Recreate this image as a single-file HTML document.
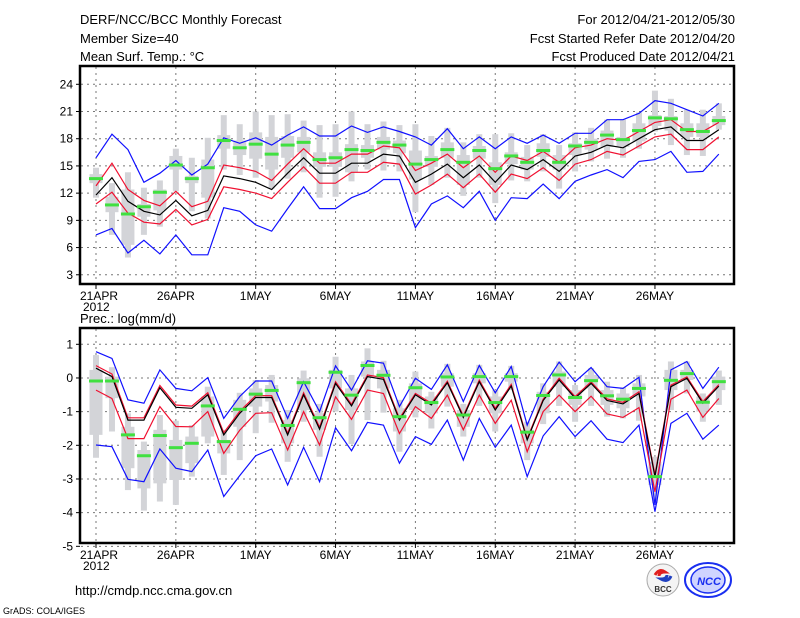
<!DOCTYPE html>
<html><head><meta charset="utf-8"><style>
html,body{margin:0;padding:0;background:#fff;width:800px;height:618px;overflow:hidden}
svg{display:block}
text{font-family:"Liberation Sans",sans-serif;fill:#000}
</style></head><body>
<svg id="chart" width="800" height="618" viewBox="0 0 800 618" xmlns="http://www.w3.org/2000/svg">
<text x="80" y="24" font-size="13">DERF/NCC/BCC Monthly Forecast</text>
<text x="80" y="43" font-size="13">Member Size=40</text>
<text x="80" y="61" font-size="13">Mean Surf. Temp.: °C</text>
<text x="735" y="24" font-size="13" text-anchor="end">For 2012/04/21-2012/05/30</text>
<text x="735" y="43" font-size="13" text-anchor="end">Fcst Started Refer Date 2012/04/20</text>
<text x="735" y="61" font-size="13" text-anchor="end">Fcst Produced Date 2012/04/21</text>
<text x="80" y="323" font-size="13">Prec.: log(mm/d)</text>
<text x="75" y="595" font-size="13">http://cmdp.ncc.cma.gov.cn</text>
<text x="3" y="614" font-size="9">GrADS: COLA/IGES</text>
<g>
<circle cx="663" cy="580" r="16" fill="#f4f4f4" stroke="#aaa" stroke-width="1"/>
<path d="M655 575 q4 -7 10 -3 q-6 0 -6 4" fill="none" stroke="#e02020" stroke-width="3"/>
<path d="M671 576 q-3 7 -10 3 q6 0 6 -4" fill="none" stroke="#2040c0" stroke-width="3"/>
<text x="663" y="592" font-size="8" font-weight="bold" text-anchor="middle" style="fill:#333">BCC</text>
</g>
<g>
<ellipse cx="708" cy="580" rx="23" ry="17" fill="none" stroke="#1a2ff0" stroke-width="2"/>
<ellipse cx="708" cy="580" rx="17" ry="13" fill="#cfd4ff" stroke="#1a2ff0" stroke-width="1.5"/>
<text x="709" y="585" font-size="11" font-weight="bold" font-style="italic" text-anchor="middle" style="fill:#1a2ff0">NCC</text>
</g>
</svg>
<script>
// ---- Temperature panel data ----
const dayLabels = ["21APR","26APR","1MAY","6MAY","11MAY","16MAY","21MAY","26MAY"];
const tempTicks = [3,6,9,12,15,18,21,24];
const tempMean = [11.8,13.7,11.1,10.0,9.6,11.2,9.5,10.1,13.9,13.6,13.2,12.4,14.2,15.9,14.2,14.2,15.3,15.3,16.3,16.1,13.2,14.1,15.2,13.7,15.1,13.2,15.1,14.6,15.7,14.4,16.1,16.5,17.3,17.0,18.0,19.0,19.3,17.8,17.8,19.0];
const tempSpread = [1.0,1.6,1.3,1.2,1.0,1.0,1.0,1.0,1.2,1.2,1.2,1.0,1.0,1.0,1.1,1.1,1.0,1.0,0.9,0.9,1.3,1.2,1.1,1.1,1.0,1.1,1.0,1.0,0.9,1.0,0.9,0.8,0.7,0.8,0.8,0.8,0.8,1.0,1.0,0.8];
const tempMax = [15.9,18.5,16.8,13.2,14.2,15.6,14.0,15.2,18.1,17.5,18.1,17.3,18.4,19.3,18.3,18.3,19.4,18.7,19.3,18.8,18.2,17.3,19.1,16.9,18.2,16.9,18.2,17.5,18.4,17.5,18.6,18.6,20.1,20.1,20.8,22.2,21.9,21.2,20.5,21.9];
const tempMin = [7.4,8.1,5.4,6.8,5.3,7.4,5.2,5.2,10.4,10.0,8.5,7.8,10.3,12.7,10.3,10.3,11.5,12.2,13.5,13.5,8.2,10.8,11.7,10.4,12.2,9.0,11.5,11.4,13.0,11.4,13.3,14.0,14.6,13.7,15.5,15.7,16.6,14.3,14.4,16.3];
const tempObs = [13.6,10.7,9.7,10.5,12.1,15.1,13.6,14.8,17.8,17.0,17.4,16.3,17.3,17.6,15.7,15.9,16.8,16.7,17.6,17.3,15.2,15.7,16.8,15.4,16.7,14.7,16.1,15.4,16.7,15.4,17.2,17.6,18.4,17.9,18.9,20.3,20.2,19.0,18.8,20.0];
const tempOutHi = [14.8,13.1,14.3,12.6,13.4,16.9,15.9,18.1,20.6,19.6,21.0,20.6,20.7,20.0,19.5,19.6,21.0,19.6,19.9,19.5,19.6,18.3,19.2,17.6,18.5,18.5,18.6,17.3,18.5,17.3,18.7,19.2,20.1,20.1,20.9,23.3,22.4,21.2,21.2,21.9];
const tempOutLo = [11.5,7.4,4.9,7.4,8.3,12.2,10.0,9.2,14.6,14.0,13.7,12.5,13.6,14.3,11.5,11.6,13.3,14.6,14.5,14.4,9.9,12.9,13.7,11.7,13.7,10.9,13.4,13.3,14.4,12.5,14.4,15.5,15.8,15.9,16.9,18.8,17.3,16.2,16.1,19.0];
const tempBoxHi = [14.1,11.6,12.4,10.8,12.4,16.1,13.9,15.7,18.4,17.8,18.7,18.2,18.3,18.2,16.5,16.5,17.4,17.3,18.2,17.8,16.7,16.1,17.6,16.2,17.2,15.4,16.5,16.0,17.5,16.2,17.5,18.0,18.9,18.2,19.7,20.6,20.5,19.7,19.7,20.5];
const tempBoxLo = [13.1,9.9,6.3,9.4,10.1,14.6,13.1,11.5,16.9,16.2,15.8,14.6,15.9,16.5,14.9,14.9,14.3,15.9,16.8,16.4,13.5,14.9,15.9,12.9,15.8,12.9,15.2,14.6,16.0,14.6,16.2,16.8,17.1,17.1,17.7,19.4,18.9,18.2,18.2,19.5];
// ---- Precipitation panel data ----
const precTicks = [-5,-4,-3,-2,-1,0,1];
const precMean = [0.29,0.04,-1.25,-1.25,-0.29,-0.87,-0.9,-0.5,-1.69,-1.05,-0.58,-0.58,-1.69,-0.5,-1.52,-0.16,-0.83,0.04,-0.04,-1.25,-0.5,-0.8,-0.14,-1.17,-0.11,-0.95,-0.24,-1.84,-0.67,-0.06,-0.6,-0.16,-0.67,-0.77,-0.46,-2.93,-0.26,-0.01,-0.75,-0.24];
const precSpread = [0.65,0.65,0.55,0.55,0.56,0.57,0.55,0.5,0.55,0.5,0.47,0.45,0.45,0.5,0.47,0.4,0.4,0.4,0.42,0.4,0.35,0.4,0.37,0.37,0.4,0.4,0.42,0.35,0.33,0.45,0.4,0.38,0.4,0.4,0.42,0.45,0.37,0.35,0.42,0.37];
const precMax = [0.78,0.58,-0.65,-0.75,0.24,-0.31,-0.38,0.01,-1.2,-0.55,-0.09,-0.09,-1.2,-0.11,-1.0,0.36,-0.36,0.51,0.44,-0.85,-0.01,-0.34,0.39,-0.7,0.37,-0.44,0.34,-1.4,-0.26,0.47,-0.11,0.31,-0.26,-0.31,0.02,-3.77,0.24,0.49,-0.31,0.32];
const precMin = [-1.99,-2.04,-3.01,-3.08,-2.11,-2.68,-2.78,-2.14,-3.52,-2.9,-2.31,-2.11,-3.18,-2.06,-3.08,-1.48,-2.16,-1.32,-1.4,-2.53,-1.74,-1.97,-1.25,-2.44,-1.2,-2.06,-1.4,-2.93,-1.72,-1.15,-1.74,-1.27,-1.82,-1.92,-1.4,-3.97,-1.35,-1.05,-1.82,-1.4];
const precObs = [-0.09,-0.09,-1.69,-2.31,-1.71,-2.07,-1.94,-0.83,-1.89,-0.93,-0.48,-0.37,-1.41,-0.14,-1.18,0.17,-0.51,0.37,0.08,-1.15,-0.29,-0.73,0.03,-1.1,0.04,-0.73,0.04,-1.61,-0.52,0.09,-0.58,-0.08,-0.53,-0.63,-0.31,-2.93,-0.07,0.13,-0.72,-0.11];
const precOutHi = [0.68,0.32,-1.05,-1.89,-1.1,-1.27,-1.4,-0.26,-1.54,-0.44,-0.06,0.09,-0.95,0.22,-0.77,0.63,0.09,0.88,0.51,-0.65,0.19,-0.41,0.42,-0.77,0.39,-0.36,0.36,-1.3,-0.16,0.49,-0.21,0.29,-0.11,-0.28,0.09,-2.34,0.49,0.49,-0.46,0.22];
const precOutLo = [-2.37,-1.59,-3.33,-3.94,-3.67,-3.77,-2.93,-1.94,-2.88,-2.44,-1.64,-1.33,-2.49,-1.3,-2.34,-1.0,-1.96,-1.25,-1.03,-2.19,-1.17,-1.5,-0.85,-1.74,-0.83,-1.59,-0.36,-2.44,-1.37,-0.83,-1.3,-0.83,-1.15,-1.2,-1.27,-3.72,-0.95,-0.46,-1.3,-0.8];
const precBoxHi = [0.24,0.04,-1.45,-2.14,-1.54,-1.84,-1.74,-0.55,-1.84,-0.65,-0.31,-0.21,-1.25,-0.01,-1.05,0.24,-0.31,0.49,0.24,-0.9,-0.16,-0.55,0.14,-0.95,0.14,-0.55,0.14,-1.54,-0.41,0.19,-0.36,0.09,-0.36,-0.46,-0.16,-2.49,0.24,0.24,-0.55,0.04];
const precBoxLo = [-1.69,-0.6,-2.68,-3.28,-3.13,-3.03,-2.53,-1.74,-2.24,-1.45,-0.85,-0.7,-1.94,-0.95,-1.54,-0.31,-0.95,0.04,-0.31,-1.59,-0.95,-1.05,-0.26,-1.45,-0.16,-1.05,-0.11,-1.94,-1.05,-0.26,-0.8,-0.31,-0.8,-0.9,-0.55,-3.18,-0.36,-0.06,-1.0,-0.36];

const NS = "http://www.w3.org/2000/svg";
const svg = document.getElementById("chart");
const X0 = 96, DX = 15.97;
function xAt(i){ return X0 + DX*i; }
function mk(tag, attrs, parent){
  const e = document.createElementNS(NS, tag);
  for (const k in attrs) e.setAttribute(k, attrs[k]);
  (parent||svg).appendChild(e);
  return e;
}
function drawPanel(cfg){
  const g = mk("g", {});
  
  
  const y = cfg.y;
  // grid
  cfg.ticks.forEach(t => {
    const yy = y(t);
    const ln = mk("line", {x1:81, x2:733, y1:yy, y2:yy, stroke:"#777", "stroke-width":1, "stroke-dasharray":"2,4"}, g);
    
    
    const tk = mk("line", {x1:76, x2:80, y1:yy, y2:yy, stroke:"#000", "stroke-width":1}, g);
    
    
    const tl = mk("text", {x:73, y:yy+4, "font-size":12, "text-anchor":"end"}, g);
    tl.textContent = String(t);
    
    
  });
  dayLabels.forEach((lab, k) => {
    const xx = xAt(k*5);
    const vl = mk("line", {x1:xx, x2:xx, y1:cfg.top+1, y2:cfg.bot, stroke:"#777", "stroke-width":1, "stroke-dasharray":"2,4"}, g);
    
    
    const tk = mk("line", {x1:xx, x2:xx, y1:cfg.bot, y2:cfg.bot+5, stroke:"#000", "stroke-width":1}, g);
    
    
    const tl = mk("text", {x:k===0?80:xx, y:cfg.bot+16, "font-size":12, "text-anchor":k===0?"start":"middle"}, g);
    tl.textContent = lab;
    
    
  });
  const yr = mk("text", {x:83, y:cfg.bot+27, "font-size":12}, g);
  yr.textContent = "2012";
  
  
  // boxes
  cfg.mean.forEach((m, i) => {
    const xx = xAt(i);
    const o = mk("rect", {x:xx-3, y:y(cfg.outHi[i]), width:6, height:Math.max(1,y(cfg.outLo[i])-y(cfg.outHi[i])), fill:"#d3d4d8"}, g);
    
    
    const b = mk("rect", {x:xx-6.5, y:y(cfg.boxHi[i]), width:13, height:Math.max(1,y(cfg.boxLo[i])-y(cfg.boxHi[i])), fill:"#d3d4d8"}, g);
    
    
  });
  function line(vals, color, nm){
    const p = mk("polyline", {points: vals.map((v,i)=>xAt(i)+","+y(v).toFixed(1)).join(" "), fill:"none", stroke:color, "stroke-width":1.2}, g);
    
    
  }
  line(cfg.max, "#1010ff", "max-line");
  line(cfg.min, "#1010ff", "min-line");
  line(cfg.mean.map((m,i)=>m+cfg.spreadHi[i]), "#f01030", "upper-red-line");
  line(cfg.mean.map((m,i)=>m-cfg.spread[i]), "#f01030", "lower-red-line");
  line(cfg.mean, "#000", "ensemble-mean-line");
  cfg.obs.forEach((v, i) => {
    const r = mk("rect", {x:xAt(i)-7, y:y(v)-1.5, width:14, height:3, fill:"#40e040"}, g);
    
    
  });
  // frame
  const f = mk("path", {d:`M80 ${cfg.top} H734 V${cfg.bot} H80 Z`, fill:"none", stroke:"#000", "stroke-width":2.5}, g);
  
  
}
drawPanel({name:"temperature-panel", top:66, bot:284, ticks:tempTicks,
  y: v => 84.3 + (24 - v)*9.07,
  mean:tempMean, spread:tempSpread, spreadHi:tempSpread, max:tempMax, min:tempMin, obs:tempObs,
  outHi:tempOutHi, outLo:tempOutLo, boxHi:tempBoxHi, boxLo:tempBoxLo});
drawPanel({name:"precipitation-panel", top:328, bot:543, ticks:precTicks,
  y: v => 344.3 + (1 - v)*33.67,
  mean:precMean, spread:precSpread, spreadHi:precSpread.map(s=>s*0.12), max:precMax, min:precMin, obs:precObs,
  outHi:precOutHi, outLo:precOutLo, boxHi:precBoxHi, boxLo:precBoxLo});
</script>
</body></html>
